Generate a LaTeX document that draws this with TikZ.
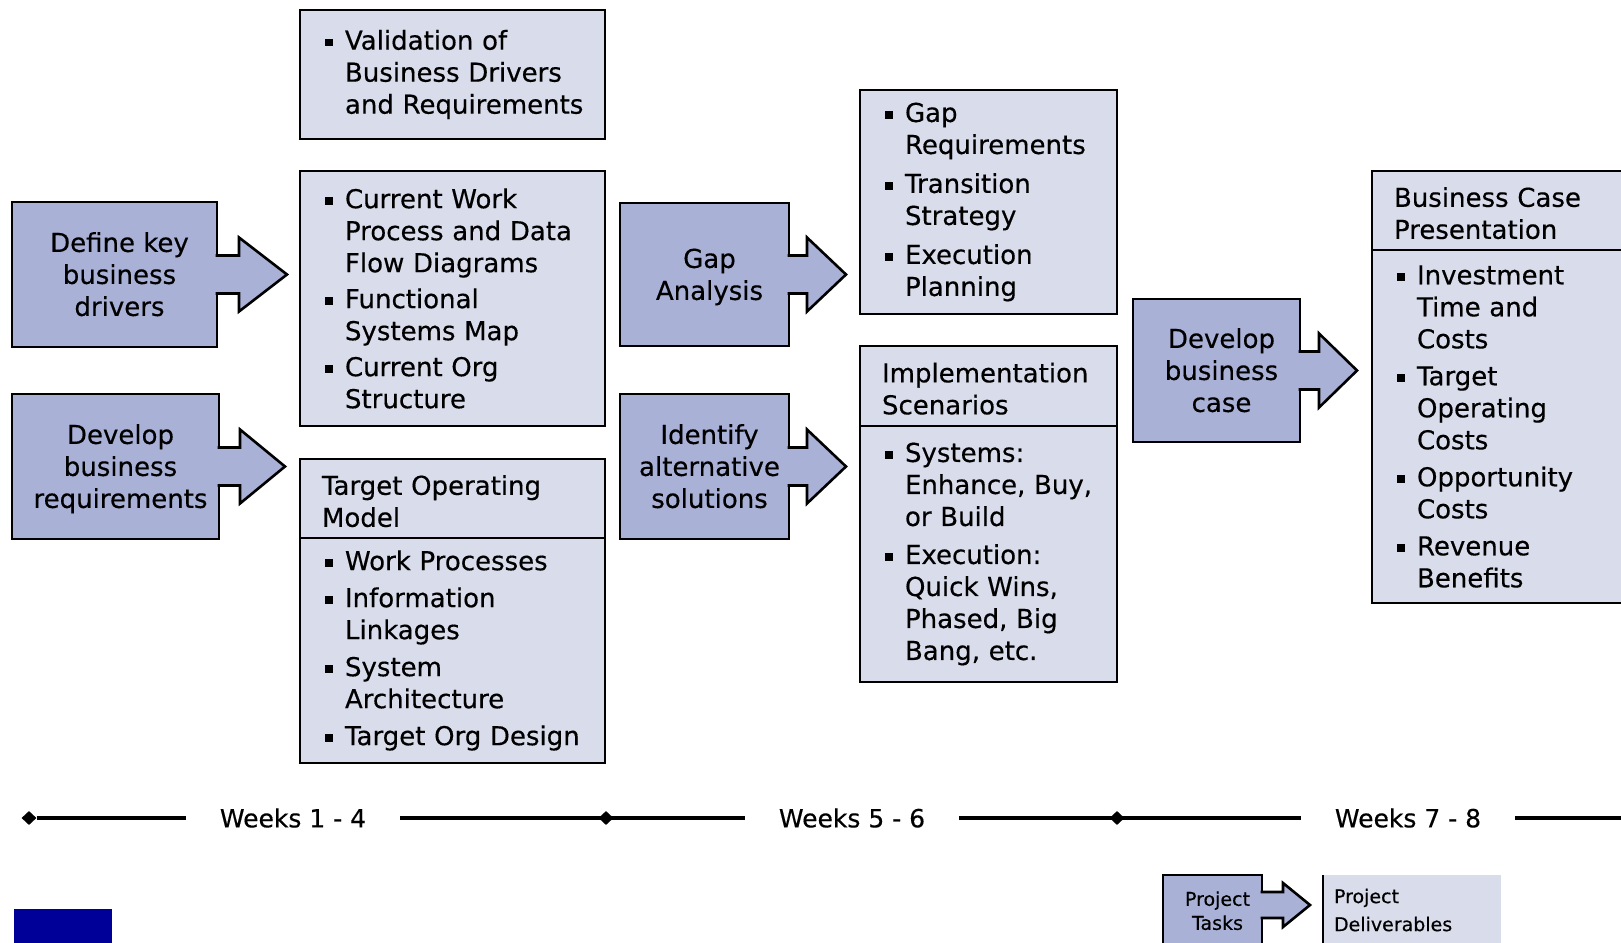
\documentclass[tikz,border=0pt]{standalone}
\usepackage{fontspec}
\setmainfont{DejaVu Sans}[FakeBold=0.4]
\usetikzlibrary{shapes.geometric}
\definecolor{mtask}{RGB}{169,177,214}
\definecolor{mdeliv}{RGB}{217,221,235}
\definecolor{mnavy}{RGB}{0,0,153}

\newcommand{\hd}{\rule{0pt}{25pt}\hspace*{22pt}}
\newcommand{\bul}{\hspace*{25pt}\makebox[20pt][l]{\rule[3.4pt]{7.5pt}{7.5pt}}}
\newcommand{\ind}{\hspace*{45pt}}
\newcommand{\tk}[1]{\hspace*{10pt}%
  \raisebox{6pt}{\vphantom{\begin{tabular}{@{}c@{}}#1\end{tabular}}}%
  \begin{tabular}{@{}c@{}}#1\end{tabular}}
\newcommand{\taskarrow}[5]{%
  \filldraw[arrowpart] ([shift={(-1.5,-#4)}]#1) -- ++(#2+1.5,0) -- ++(0,#4-#5)
    -- ++(#3,#5) -- ++(-#3,#5) -- ++(0,#4-#5) -- ++(-#2-1.5,0);}

\begin{document}
\begin{tikzpicture}[x=1pt, y=-1pt,
    font=\fontsize{26}{32}\selectfont,
    task/.style={rectangle, fill=mtask, draw, line width=2.6pt, inner sep=0pt, outer sep=0pt},
    arrowpart/.style={fill=mtask, draw, line width=2.6pt},
    dlv/.style={rectangle, fill=mdeliv, draw, line width=2.6pt, align=left, inner sep=0pt, outer sep=0pt},
    tick/.style={diamond, fill=black, inner sep=0pt, minimum width=15pt, minimum height=14pt},
    weeks/.style={inner xsep=34pt, inner ysep=0pt, font=\fontsize{25}{32}\selectfont},
    timeline/.style={line width=4.5pt}]
    \useasboundingbox (0,0) rectangle (1621,942);
    \fill[white] (0,0) rectangle (1621,942);

    \node[task, minimum width=205pt, minimum height=145pt] (drivers)      at (114.5,274.5) {\tk{Define key\\business\\drivers}};
    \node[task, minimum width=207pt, minimum height=145pt] (requirements) at (115.5,466.5) {\tk{Develop\\business\\requirements}};
    \node[task, minimum width=169pt, minimum height=143pt] (gapanalysis)  at (704.5,274.5) {\tk{Gap\\Analysis}};
    \node[task, minimum width=169pt, minimum height=145pt] (alternatives) at (704.5,466.5) {\tk{Identify\\alternative\\solutions}};
    \node[task, minimum width=167pt, minimum height=143pt] (businesscase) at (1216.5,370.5) {\tk{Develop\\business\\case}};

    \node[dlv, text width=305pt, minimum height=129pt] (validation) at (452.5,74.5)
        {\bul Validation of\\ \ind Business Drivers\\ \ind and Requirements};
    \node[dlv, text width=305pt, minimum height=255pt] (currentstate) at (452.5,298.5)
        {\bul Current Work\\ \ind Process and Data\\ \ind Flow Diagrams\\[4pt]
         \bul Functional\\ \ind Systems Map\\[4pt]
         \bul Current Org\\ \ind Structure};
    \node[dlv, text width=305pt, minimum height=79pt] (tomhead) at (452.5,498.5)
        {\hd Target Operating\\ \hd Model};
    \node[dlv, text width=305pt, minimum height=225pt, anchor=north] (tombody) at (tomhead.south)
        {\bul Work Processes\\[5pt]
         \bul Information\\ \ind Linkages\\[5pt]
         \bul System\\ \ind Architecture\\[5pt]
         \bul Target Org Design};

    \node[dlv, text width=257pt, minimum height=224pt] (gaps) at (988.5,202)
        {\bul Gap\\ \ind Requirements\\[7pt]
         \bul Transition\\ \ind Strategy\\[7pt]
         \bul Execution\\ \ind Planning};
    \node[dlv, text width=257pt, minimum height=80pt] (implhead) at (988.5,386)
        {\hd Implementation\\ \hd Scenarios};
    \node[dlv, text width=257pt, minimum height=256pt, anchor=north] (implbody) at (implhead.south)
        {\bul Systems:\\ \ind Enhance, Buy,\\ \ind or Build\\[6pt]
         \bul Execution:\\ \ind Quick Wins,\\ \ind Phased, Big\\ \ind Bang, etc.};

    \node[dlv, text width=258pt, minimum height=79pt] (bchead) at (1501,210.5)
        {\hd Business Case\\ \hd Presentation};
    \node[dlv, text width=258pt, minimum height=353pt, anchor=north] (bcbody) at (bchead.south)
        {\bul Investment\\ \ind Time and\\ \ind Costs\\[5pt]
         \bul Target\\ \ind Operating\\ \ind Costs\\[5pt]
         \bul Opportunity\\ \ind Costs\\[5pt]
         \bul Revenue\\ \ind Benefits};

    \taskarrow{drivers.east}{22}{48}{19}{37}
    \taskarrow{requirements.east}{21}{45}{19}{37}
    \taskarrow{gapanalysis.east}{18}{39}{19}{37}
    \taskarrow{alternatives.east}{18}{39}{19}{37}
    \taskarrow{businesscase.east}{19}{38}{19}{37}

    \node[tick] (t0) at (29,818) {};
    \node[weeks] (wk1) at (293,818) {Weeks 1 - 4};
    \node[tick] (t1) at (606,818) {};
    \node[weeks] (wk2) at (852,818) {Weeks 5 - 6};
    \node[tick] (t2) at (1117,818) {};
    \node[weeks] (wk3) at (1408,818) {Weeks 7 - 8};
    \coordinate (tlend) at (1625,818);
    \draw[timeline] (t0) -- (wk1);
    \draw[timeline] (wk1) -- (wk2);
    \draw[timeline] (wk2) -- (wk3);
    \draw[timeline] (wk3) -- (tlend);

    \fill[mnavy] (14,909) rectangle (112,950);

    \node[task, minimum width=99pt, minimum height=70pt, anchor=north,
          font=\fontsize{19}{24}\selectfont] (lgtasks) at (1212.5,875) {\tk{Project\\Tasks}};
    \coordinate (lgjoin) at ([yshift=5pt]lgtasks.east);
    \taskarrow{lgjoin}{21}{27}{13}{22}
    \node[rectangle, fill=mdeliv, anchor=north west, inner xsep=11pt, inner ysep=0pt, outer sep=0pt,
          text width=156pt, minimum height=70pt, align=left,
          font=\fontsize{19}{28}\selectfont] (lgdeliv) at (1323,875) {Project\\Deliverables};
    \draw[line width=1.3pt] (lgdeliv.north west) -- (lgdeliv.south west);
\end{tikzpicture}
\end{document}
